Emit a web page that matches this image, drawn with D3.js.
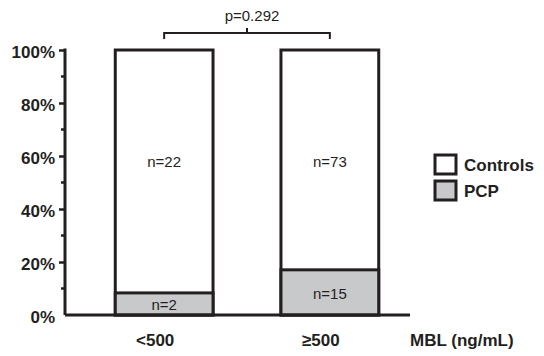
<!DOCTYPE html>
<html>
<head>
<meta charset="utf-8">
<script src="https://cdn.jsdelivr.net/npm/d3@7"></script>
<style>
  body { margin: 0; background: #fff; }
  text { font-family: "Liberation Sans", Arial, sans-serif; fill: #231f20; }
</style>
</head>
<body>
<script>
// data
const categories = ["<500", "\u2265500"];
const pcpCounts = [2, 15];
const controlCounts = [22, 73];
const yTicks = [0, 20, 40, 60, 80, 100];
const yMinorTicks = [10, 30, 50, 70, 90];
const pValue = "p=0.292";
const legendLabels = ["Controls", "PCP"];

const width = 544, height = 356;
const ink = "#231f20", grey = "#c8c9cb";

const svg = d3.select("body").append("svg")
  .attr("width", width)
  .attr("height", height);

const x = d3.scaleBand()
  .domain(categories)
  .range([49, 445])
  .paddingInner(0.41)
  .paddingOuter(0.4);

const y = d3.scaleLinear().domain([0, 100]).range([315, 50]);

const rows = categories.map((c, i) => {
  const total = pcpCounts[i] + controlCounts[i];
  return { cat: c, pcp: pcpCounts[i], ctrl: controlCounts[i], pcpPct: pcpCounts[i] / total * 100 };
});

// y axis
const yAxis = svg.append("g")
  .attr("transform", "translate(65,0)")
  .call(d3.axisLeft(y).tickValues(yTicks).tickSize(6).tickFormat(d => d + "%").tickSizeOuter(0));
yAxis.select(".domain").remove();
yAxis.selectAll(".tick line").attr("stroke", ink).attr("stroke-width", 2.5);
yAxis.selectAll(".tick text")
  .attr("x", -10)
  .style("font-size", "17px")
  .style("font-weight", "bold")
  .attr("dy", "0.42em");
yAxis.selectAll(".tick").filter(d => d === 0).select("line").remove();

svg.append("g")
  .selectAll("line")
  .data(yMinorTicks)
  .join("line")
  .attr("x1", 61).attr("x2", 65)
  .attr("y1", d => y(d)).attr("y2", d => y(d))
  .attr("stroke", ink).attr("stroke-width", 2.5);

svg.append("line")
  .attr("x1", 65).attr("x2", 65)
  .attr("y1", y(100) - 1.5).attr("y2", y(0))
  .attr("stroke", ink).attr("stroke-width", 3);

// bars
const bars = svg.append("g").selectAll("g").data(rows).join("g");

bars.append("rect")
  .attr("x", d => x(d.cat))
  .attr("y", y(100))
  .attr("width", x.bandwidth())
  .attr("height", y(0) - y(100))
  .attr("fill", "#fff")
  .attr("stroke", ink)
  .attr("stroke-width", 3);

bars.append("rect")
  .attr("x", d => x(d.cat))
  .attr("y", d => y(d.pcpPct))
  .attr("width", x.bandwidth())
  .attr("height", d => y(0) - y(d.pcpPct))
  .attr("fill", grey)
  .attr("stroke", ink)
  .attr("stroke-width", 3);

bars.append("text")
  .attr("x", d => x(d.cat) + x.bandwidth() / 2)
  .attr("y", 162)
  .attr("dy", "0.35em")
  .attr("text-anchor", "middle")
  .style("font-size", "15px")
  .text(d => "n=" + d.ctrl);

bars.append("text")
  .attr("x", d => x(d.cat) + x.bandwidth() / 2)
  .attr("y", d => (y(d.pcpPct) + y(0)) / 2 + 1)
  .attr("dy", "0.35em")
  .attr("text-anchor", "middle")
  .style("font-size", "15px")
  .text(d => "n=" + d.pcp);

// baseline
svg.append("line")
  .attr("x1", 65).attr("x2", 410)
  .attr("y1", y(0)).attr("y2", y(0))
  .attr("stroke", ink).attr("stroke-width", 3);

// category labels
svg.append("g").selectAll("text")
  .data(categories)
  .join("text")
  .attr("x", d => x(d) + x.bandwidth() / 2 - 9)
  .attr("y", 340)
  .attr("dy", "0.35em")
  .attr("text-anchor", "middle")
  .style("font-size", "17px")
  .style("font-weight", "bold")
  .text(d => d);

svg.append("text")
  .attr("x", 410)
  .attr("y", 340)
  .attr("dy", "0.35em")
  .style("font-size", "17px")
  .style("font-weight", "bold")
  .text("MBL (ng/mL)");

// significance bracket
const c0 = x(categories[0]) + x.bandwidth() / 2;
const c1 = x(categories[1]) + x.bandwidth() / 2;
const mid = (c0 + c1) / 2;
svg.append("path")
  .attr("d", `M${c0},39V33H${c1}V39M${mid},33V28`)
  .attr("fill", "none")
  .attr("stroke", ink)
  .attr("stroke-width", 2);

svg.append("text")
  .attr("x", mid + 5)
  .attr("y", 16)
  .attr("dy", "0.35em")
  .attr("text-anchor", "middle")
  .style("font-size", "15px")
  .text(pValue);

// legend
const legendFills = ["#fff", grey];
const legend = svg.append("g").selectAll("g")
  .data(legendLabels)
  .join("g")
  .attr("transform", (d, i) => `translate(435,${155 + i * 26})`);

legend.append("rect")
  .attr("width", 21)
  .attr("height", 19)
  .attr("fill", (d, i) => legendFills[i])
  .attr("stroke", ink)
  .attr("stroke-width", 3);

legend.append("text")
  .attr("x", 29)
  .attr("y", 10)
  .attr("dy", "0.35em")
  .style("font-size", "17px")
  .style("font-weight", "bold")
  .text(d => d);
</script>
</body>
</html>
